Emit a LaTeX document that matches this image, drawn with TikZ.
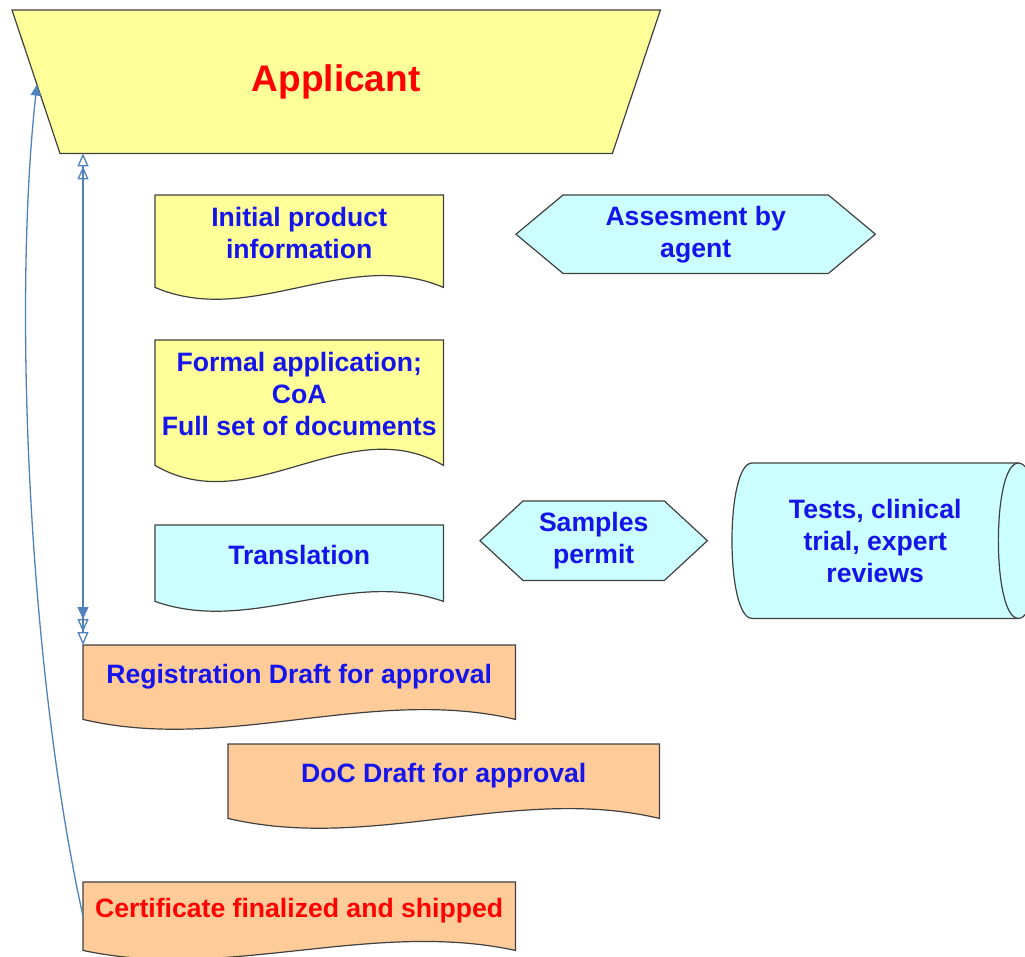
\documentclass[tikz,border=0pt]{standalone}
\usepackage{fontspec}
\setmainfont{Liberation Sans}
\usetikzlibrary{arrows.meta,calc,backgrounds}

\definecolor{appyellow}{RGB}{255,255,153}
\definecolor{appcyan}{RGB}{204,255,255}
\definecolor{apporange}{RGB}{255,204,153}
\definecolor{textblue}{RGB}{20,20,235}
\definecolor{linkblue}{RGB}{79,129,189}

\tikzset{
  otri/.tip={Triangle[open, length=13pt, width=11pt]},
  ftri/.tip={Triangle[fill=linkblue, length=12pt, width=11pt]}}

\begin{document}
\begin{tikzpicture}[x=1pt, y=-1pt,
  box/.style={inner sep=0pt, anchor=north west, align=center,
    font=\fontsize{26.6}{32}\selectfont\bfseries, text=textblue},
  doctext/.style={text depth=17pt},
  outline/.style={draw=black!75, line width=1.2pt},
  link/.style={draw=linkblue, line width=1.3pt}]

  \newcommand\docshape[3]{%
    \draw[outline, fill=#2] (#1.south west) -- (#1.north west) -- (#1.north east) -- (#1.south east)
      .. controls ($(#1.south east)!1/3!(#1.south west)+(0,-#3)$)
      and ($(#1.south east)!2/3!(#1.south west)+(0,#3)$) .. (#1.south west) -- cycle;}
  \newcommand\hexshape[3]{%
    \draw[outline, fill=#2] (#1.west) -- ([xshift=#3pt]#1.north west) -- ([xshift=-#3pt]#1.north east)
      -- (#1.east) -- ([xshift=-#3pt]#1.south east) -- ([xshift=#3pt]#1.south west) -- cycle;}

  \useasboundingbox (0,0) rectangle (1025,956);

  \node[box, minimum width=648pt, minimum height=143pt, text=red,
    font=\fontsize{37}{44}\selectfont\bfseries] (applicant) at (12,10) {Applicant};

  \node[box, doctext, minimum width=288pt, minimum height=92pt] (initial) at (155,195) {Initial product\\information};
  \node[box, minimum width=359pt, minimum height=78pt] (assessment) at (516,195) {Assesment by\\agent};
  \node[box, doctext, minimum width=288pt, minimum height=125pt] (formal) at (155,340) {Formal application;\\CoA\\Full set of documents};
  \node[box, doctext, minimum width=288pt, minimum height=76pt] (translation) at (155,525) {Translation};
  \node[box, minimum width=227pt, minimum height=79pt] (samples) at (480,501) {Samples\\permit};
  \node[box, minimum width=286pt, minimum height=155pt] (tests) at (732,463) {Tests, clinical\\trial, expert\\reviews};
  \node[box, doctext, minimum width=432pt, minimum height=74pt] (regdraft) at (83,645) {Registration Draft for approval};
  \node[box, doctext, minimum width=431pt, minimum height=74pt] (docdraft) at (228,744) {DoC Draft for approval};
  \node[box, doctext, minimum width=432pt, minimum height=68pt, text=red] (certificate) at (83,882) {Certificate finalized and shipped};

  \begin{scope}[on background layer]
    \draw[outline, fill=appyellow] (applicant.north west) -- (applicant.north east)
      -- ([xshift=-48pt]applicant.south east) -- ([xshift=48pt]applicant.south west) -- cycle;
    \docshape{initial}{appyellow}{41}
    \hexshape{assessment}{appcyan}{47}
    \docshape{formal}{appyellow}{56}
    \docshape{translation}{appcyan}{34}
    \hexshape{samples}{appcyan}{43}
    \draw[outline, fill=appcyan] ([xshift=20pt]tests.north west) -- (tests.north east)
      .. controls +(26.7,0) and +(26.7,0) .. (tests.south east) -- ([xshift=20pt]tests.south west)
      .. controls +(-26.7,0) and +(-26.7,0) .. ([xshift=20pt]tests.north west) -- cycle;
    \draw[outline] (tests.north east) .. controls +(-26.7,0) and +(-26.7,0) .. (tests.south east);
    \docshape{regdraft}{apporange}{34}
    \docshape{docdraft}{apporange}{34}
    \docshape{certificate}{apporange}{31}
  \end{scope}

  \coordinate (applicantedge) at ($(applicant.north west)!0.52!([xshift=48pt]applicant.south west)$);

  \draw[link, {otri[] otri[]}-{ftri[] otri[] otri[]}]
    (applicant.south -| regdraft.north west) -- (regdraft.north west);
  \draw[link, -{Triangle[fill=linkblue, length=11pt, width=10pt]}]
    (certificate.west) .. controls +(-55,-250) and +(-24,215) .. (applicantedge);

\end{tikzpicture}
\end{document}
